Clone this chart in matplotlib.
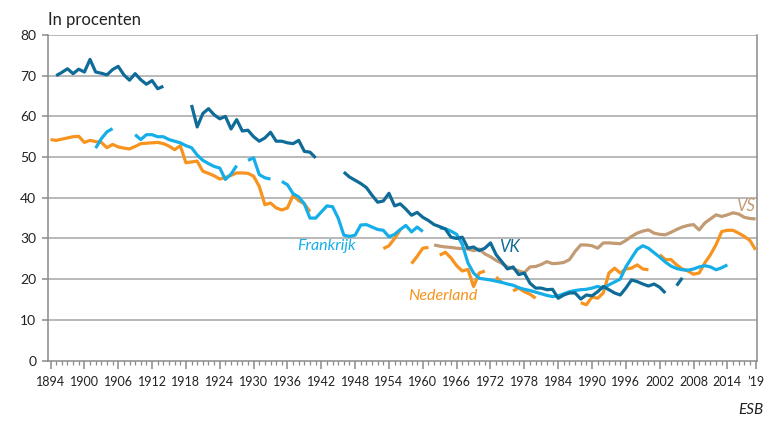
import numpy as np
import matplotlib
matplotlib.use("Agg")
import matplotlib.pyplot as plt
from matplotlib.ticker import FixedLocator

# ---------------- data (annual values, None = no data) ----------------
vk_start = 1895
vk_values = [70.0, 70.8, 71.7, 70.5, 71.6, 70.9, 74.0, 70.9, 70.6, 70.2,
             71.5, 72.3, 70.2, 68.9, 70.5, 69.0, 67.9, 68.8, 66.8, 67.4,
             None, None, None, None,
             62.8, 57.4, 60.7, 61.9, 60.4, 59.4, 60.0, 56.9, 59.2, 56.4,
             56.6, 55.0, 53.9, 54.7, 56.1, 53.9, 53.9, 53.5, 53.3, 54.1,
             51.4, 51.2, 49.8,
             None, None, None, None,
             46.3, 45.1, 44.3, 43.5, 42.5, 40.6, 38.9, 39.2, 41.1, 38.0,
             38.5, 37.2, 35.7, 36.4, 35.2, 34.4, 33.4, 32.9, 32.3, 30.3,
             30.0, 30.3, 27.6, 27.9, 27.0, 27.6, 28.9, 26.0, 24.3, 22.5,
             23.0, 21.1, 21.5, 19.0, 17.8, 17.8, 17.4, 17.5, 15.3, 16.1,
             16.6, 16.6, 15.1, 16.1, 15.9, 16.9, 18.2, 17.4, 16.6, 16.1,
             17.8, 19.8, 19.4, 18.8, 18.3, 18.8, 18.0, 16.6,
             None, 18.4, 20.3]

fr_start = 1902
fr_values = [52.2, 54.5, 56.2, 57.0,
             None, None, None,
             55.5, 54.3, 55.5, 55.5, 55.0, 55.0, 54.3, 53.9, 53.5, 52.8,
             52.3, 50.5, 49.2, 48.4, 47.7, 47.3, 44.5, 45.8, 47.9,
             None,
             49.2, 49.8, 45.7, 44.9, 44.6,
             None,
             44.0, 43.2, 41.0, 40.2, 38.5, 35.0, 35.0, 36.5, 38.0, 37.8,
             35.0, 30.8, 30.5, 30.8, 33.3, 33.4, 32.8, 32.2, 32.0, 30.4,
             31.0, 32.2, 33.2, 31.6, 32.8, 31.7,
             None, None,
             32.6, 32.4, 31.8, 31.0, 28.5, 24.0, 21.5, 20.2, 20.0, 19.8,
             19.5, 19.2, 18.8, 18.5, 17.9, 17.5, 17.2, 16.8, 16.4, 16.0,
             15.7, 15.9, 16.4, 16.9, 17.2, 17.4, 17.5, 17.8, 18.2, 17.8,
             18.6, 19.3, 20.0, 23.0, 25.2, 27.3, 28.2, 27.6, 26.5, 25.4,
             24.2, 23.2, 22.6, 22.3, 22.2, 22.5, 23.0, 23.3, 23.0, 22.3,
             22.8, 23.5]

nl_start = 1894
nl_values = [54.3, 54.1, 54.4, 54.7, 55.0, 55.1, 53.6, 54.1, 53.8, 53.6,
             52.3, 53.1, 52.5, 52.2, 52.0, 52.6, 53.3, 53.4, 53.5, 53.6,
             53.3, 52.7, 51.8, 52.8, 48.6, 48.8, 49.0, 46.5, 46.0, 45.4,
             44.6, 45.0, 45.5, 46.1, 46.1, 46.0, 45.3, 42.8, 38.3, 38.7,
             37.5, 37.0, 37.5, 40.6, 39.3, 38.5, 36.6,
             None, None, None, None, None, None, None, None, None, None,
             None, None,
             27.5, 28.2, 30.0, 32.1,
             None,
             23.8, 25.6, 27.6, 27.8,
             None,
             25.9, 26.6, 25.2, 23.3, 22.0, 22.4, 18.2, 21.5, 22.0,
             None,
             20.5, 19.2,
             None,
             17.1, 17.8, 16.9, 16.3, 15.3,
             None, None, None, None, None, None, None,
             14.2, 13.7, 15.6, 15.3, 16.6, 21.5, 22.7, 21.5, 22.5, 22.7,
             23.5, 22.5, 22.3,
             None,
             26.0, 24.8, 24.8, 23.5, 22.5, 22.0, 21.2, 21.5, 24.0, 26.0,
             28.5, 31.7, 32.0, 32.0, 31.3, 30.5, 29.5, 27.2]

vs_start = 1962
vs_values = [28.4, 28.1, 27.9, 27.8, 27.6, 27.5, 27.4, 27.0, 27.4, 26.2,
             25.5, 24.6, 23.9, 23.0, 22.6, 22.0, 21.6, 23.0, 23.1, 23.6,
             24.3, 23.8, 23.9, 24.1, 24.8, 26.8, 28.4, 28.4, 28.2, 27.6,
             28.9, 28.9, 28.8, 28.7, 29.5, 30.5, 31.3, 31.8, 32.1, 31.3,
             31.0, 30.9, 31.5, 32.2, 32.8, 33.2, 33.4, 32.1, 33.8, 34.8,
             35.8, 35.4, 35.8, 36.3, 36.0, 35.2, 34.9, 34.8]

series_names = ["VK", "Frankrijk", "Nederland", "VS"]
major_years = list(range(1894, 2015, 6)) + [2019]
major_labels = [str(y) for y in range(1894, 2015, 6)] + ["\u201919"]
y_ticks = [0, 10, 20, 30, 40, 50, 60, 70, 80]

# ---------------- styling ----------------
c_vk = "#0f6b97"
c_fr = "#16aee9"
c_nl = "#f7931e"
c_vs = "#c29b74"
grid_c = "#a6a6a6"
axis_c = "#8a8a8a"
FONT = "Lato"

def to_arr(start, vals):
    yrs = np.arange(start, start + len(vals))
    v = np.array([np.nan if x is None else x for x in vals], dtype=float)
    return yrs, v

fig = plt.figure(figsize=(7.65, 4.32), dpi=100)
ax = fig.add_axes([48 / 765, 1 - 360.5 / 432, (757 - 48) / 765, (360.5 - 35) / 432])

ax.set_ylim(0, 80)
ax.set_xlim(1893.55, 2019.25)

for yv in y_ticks[1:]:
    ax.axhline(yv, color=grid_c, lw=1.1, zorder=1)

lw = 2.3
for (start, vals, col) in [(vs_start, vs_values, c_vs),
                           (nl_start, nl_values, c_nl),
                           (fr_start, fr_values, c_fr),
                           (vk_start, vk_values, c_vk)]:
    x, y = to_arr(start, vals)
    ax.plot(x, y, color=col, lw=lw, solid_joinstyle="round",
            solid_capstyle="butt", zorder=3)

for s in ["top"]:
    ax.spines[s].set_visible(False)
for s in ["left", "bottom", "right"]:
    ax.spines[s].set_color(axis_c)
    ax.spines[s].set_linewidth(1.1)

ax.xaxis.set_major_locator(FixedLocator(major_years))
ax.set_xticklabels(major_labels)
ax.xaxis.set_minor_locator(FixedLocator(list(range(1894, 2020))))
ax.tick_params(axis="x", which="major", length=6, width=1.1, color=axis_c,
               pad=5, labelsize=9, labelcolor="#222222")
ax.tick_params(axis="x", which="minor", length=3.2, width=0.9, color=axis_c)
ax.set_yticks(y_ticks)
ax.set_yticklabels([str(v) for v in y_ticks])
ax.tick_params(axis="y", which="major", length=4.5, width=1.1, color=axis_c,
               pad=4, labelsize=10, labelcolor="#222222")
ax.tick_params(axis="y", which="both", right=False)
for lab in ax.get_xticklabels() + ax.get_yticklabels():
    lab.set_fontfamily(FONT)

# series labels
ax.text(1973.5, 27.9, series_names[0], color=c_vk, fontsize=12, style="italic",
        family=FONT, va="center", ha="left")
ax.text(1937.7, 28.2, series_names[1], color=c_fr, fontsize=11.5, style="italic",
        family=FONT, va="center", ha="left")
ax.text(1957.5, 15.9, series_names[2], color=c_nl, fontsize=11.5, style="italic",
        family=FONT, va="center", ha="left")
ax.text(2015.6, 38.0, series_names[3], color=c_vs, fontsize=12, style="italic",
        family=FONT, va="center", ha="left")

fig.text(48 / 765, 1 - 20 / 432, "In procenten", fontsize=12, family=FONT,
         color="#222222", va="center", ha="left")
fig.text(763 / 765, 1 - 410 / 432, "ESB", fontsize=11, family=FONT,
         style="italic", color="#222222", va="center", ha="right")

fig.savefig("out.png", dpi=100)
